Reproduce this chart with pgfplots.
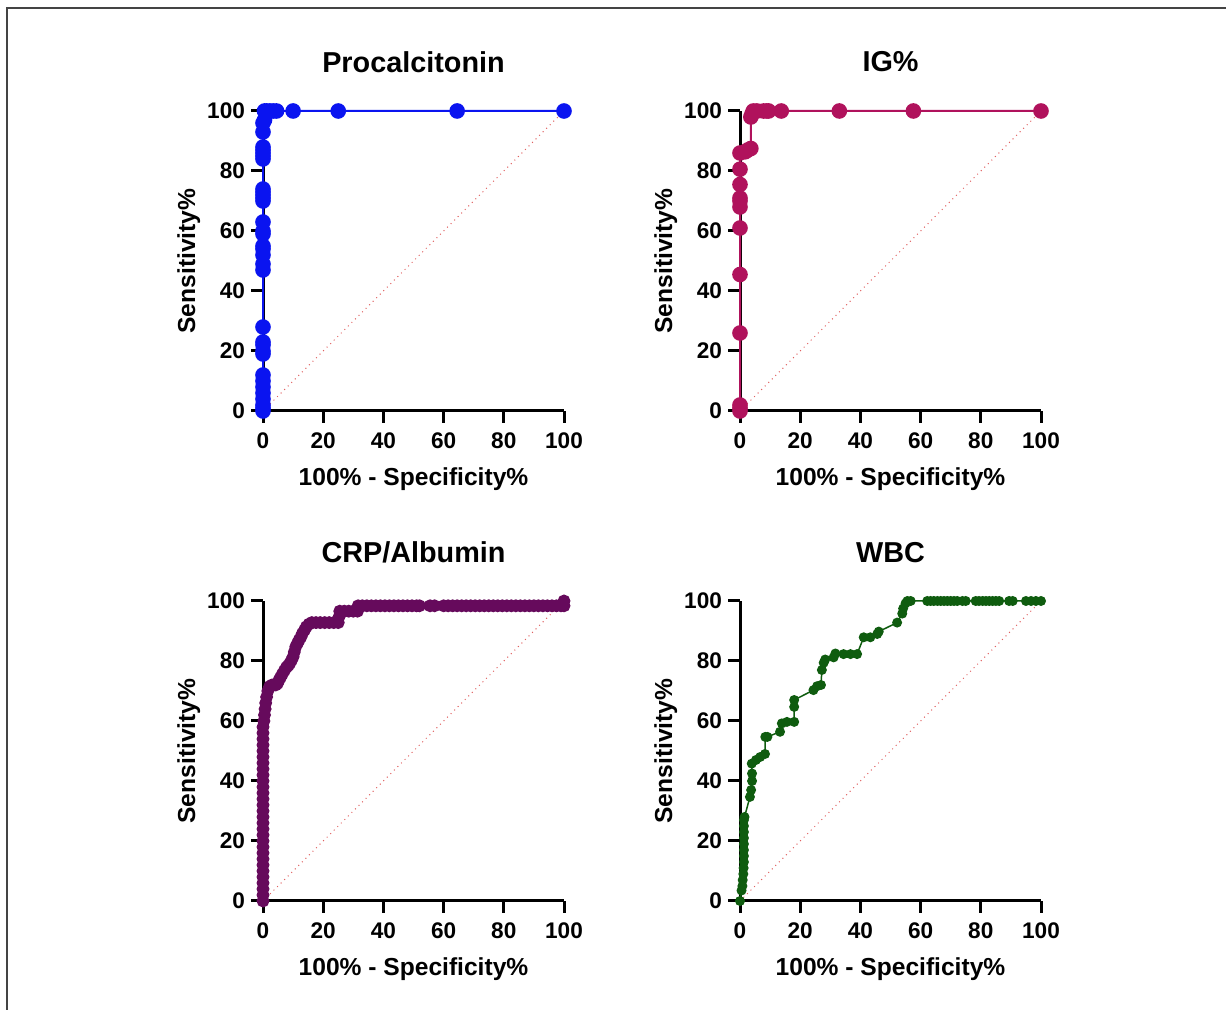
\documentclass[border=0pt]{standalone}
\usepackage{pgfplots}
\pgfplotsset{compat=1.18}
\usepackage{fontspec}
\setmainfont{Liberation Sans}

\definecolor{pctblue}{HTML}{0A14F0}
\definecolor{igred}{HTML}{B0125C}
\definecolor{crppurple}{HTML}{660A5C}
\definecolor{wbcgreen}{HTML}{0F5C0F}
\definecolor{diagred}{HTML}{E06060}
\definecolor{framegray}{HTML}{444444}

\pgfplotsset{
  roc/.style={
    scale only axis, width=150.5pt, height=150pt,
    anchor=south west,
    xmin=0, xmax=100, ymin=0, ymax=100,
    xtick={0,20,...,100}, ytick={0,20,...,100},
    axis x line=bottom, axis y line=left,
    axis line style={-, line width=1.5pt, black},
    tick style={line width=1.5pt, black},
    tick align=outside, major tick length=6pt,
    /pgf/number format/assume math mode=true,
    tick label style={font=\bfseries\fontsize{11.3}{11.3}\selectfont},
    xticklabel style={yshift=-1.5pt},
    yticklabel style={xshift=0.5pt},
    label style={font=\bfseries\fontsize{12.3}{12.3}\selectfont},
    xlabel={100\% - Specificity\%}, ylabel={Sensitivity\%},
    xlabel style={at={(axis description cs:0.5,-0.227)}, anchor=center},
    ylabel style={at={(axis description cs:-0.2465,0.5)}, anchor=center, rotate=0},
    title style={font=\bfseries\fontsize{14.4}{14.4}\selectfont,
      at={(axis description cs:0.5,1.123)}, anchor=center},
    clip=false,
  },
  diag/.style={diagred, line width=0.5pt, dotted},
}

\begin{document}
\begin{tikzpicture}
\path[use as bounding box] (0,0) rectangle (613pt,505pt);
\draw[framegray, line width=1pt] (3.5pt,0) -- (3.5pt,501pt) -- (613pt,501pt);

% Procalcitonin
\begin{axis}[roc, at={(131.5pt,299.5pt)}, title={Procalcitonin}]
\addplot[diag] coordinates {(0,0) (100,100)};
\addplot[pctblue, line width=1pt, mark=*, mark size=3.4pt] coordinates {
(0,0) (0,1) (0,2) (0,4) (0,6) (0,8) (0,10) (0,12) (0,19) (0,20) (0,22) (0,23)
(0,28) (0,47) (0,49) (0,52) (0,54) (0,55) (0,59) (0,60) (0,63) (0,70) (0,71)
(0,72) (0,73) (0,74) (0,84) (0,85) (0,86) (0,87) (0,88) (0,93) (0,96) (0.5,97)
(0.5,100) (1.2,100) (2.3,100) (3.4,100) (4.5,100) (10,100) (25,100) (64.5,100) (100,100)
};
\end{axis}

% IG%
\begin{axis}[roc, at={(370pt,299.5pt)}, title={IG\%}]
\addplot[diag] coordinates {(0,0) (100,100)};
\addplot[igred, line width=1pt, mark=*, mark size=3.4pt] coordinates {
(0,0) (0,1) (0,2) (0,26) (0,45.5) (0,61) (0,68) (0,70) (0,71) (0,75.5) (0,80.6)
(0,86) (1.7,86.4) (2.6,87) (3.6,87.5) (3.6,98) (4,99) (4.4,100) (5.6,100)
(7.8,100) (8.9,100) (9.5,100) (13.7,100) (33,100) (57.6,100) (100,100)
};
\end{axis}

% CRP/Albumin
\begin{axis}[roc, at={(131.5pt,54.5pt)}, title={CRP/Albumin}]
\addplot[diag] coordinates {(0,0) (100,100)};
\addplot[crppurple, line width=1.2pt, mark=*, mark size=2.6pt] coordinates {
(0,0) (0,2) (0,4) (0,6) (0,8) (0,10) (0,12) (0,14) (0,16) (0,18) (0,20) (0,22)
(0,24) (0,26) (0,28) (0,30) (0,32) (0,34) (0,36) (0,38) (0,40) (0,42) (0,44)
(0,46) (0,48) (0,50) (0,52) (0,54) (0,56) (0,58)
(0.3,60) (0.5,62) (0.7,64) (0.9,66) (1.2,68) (1.6,70) (2.2,71.5) (3,72) (4.2,72)
(4.8,72.5) (5.3,73.6) (5.8,74.5) (6.4,75.6) (7.1,76.8) (7.8,77.9) (8.4,78.5)
(8.9,79.2) (9.5,80.3) (10,81.4) (10.4,83) (10.9,84.8) (11.5,86) (12,87)
(12.6,88) (13.1,89.2) (13.8,90.3) (14.4,91.4) (15.3,92.3) (16.2,92.8)
(17.6,92.8) (19,92.8) (20.5,92.8) (22,92.8) (23.5,92.8) (25,92.8) (25.3,94.8)
(25.5,96.6) (27,96.6) (28.5,96.6) (30,96.6) (31.4,96.6) (31.6,98.4)
(33,98.4) (34.5,98.4) (36,98.4) (37.5,98.4) (39,98.4) (40.5,98.4) (42,98.4)
(43.5,98.4) (45,98.4) (46.5,98.4) (48,98.4) (49.5,98.4) (51,98.4) (52,98.4)
(55.5,98.4) (57,98.4) (60,98.4) (61.5,98.4) (63,98.4) (64.5,98.4) (66,98.4)
(67.5,98.4) (69,98.4) (70.5,98.4) (72,98.4) (73.5,98.4) (75,98.4) (76.5,98.4)
(78,98.4) (79.5,98.4) (81,98.4) (82.5,98.4) (84,98.4) (85.5,98.4) (87,98.4)
(88.5,98.4) (90,98.4) (91.5,98.4) (93,98.4) (94.5,98.4) (96,98.4) (97.5,98.4)
(99,98.4) (100,98.4) (100,100)
};
\end{axis}

% WBC
\begin{axis}[roc, at={(370pt,54.5pt)}, title={WBC}]
\addplot[diag] coordinates {(0,0) (100,100)};
\addplot[wbcgreen, line width=0.75pt, mark=*, mark size=2.1pt] coordinates {
(0,0) (0.5,3.5) (0.8,5) (0.9,7) (1.1,9) (1.2,11) (1.3,13) (1.3,15) (1.3,17)
(1.3,19) (1.3,21) (1.3,23) (1.3,25) (1.3,27) (1.5,28) (3.3,34.7) (3.7,37) (4,40)
(4,42.5) (3.9,45.8) (5.3,47) (6.7,48) (8.3,49) (8.4,54.7) (9.1,54.7) (13.3,56.4)
(13.9,59.2) (15.6,59.7) (18,59.7) (18,64.7) (18,67) (24.4,70.3) (25.6,71.6)
(26.9,72) (27.2,77) (27.8,79.4) (28.3,80.5) (31.1,81.2) (31.7,82.5) (34.4,82.3)
(36.7,82.3) (38.9,82.3) (41.1,87.9) (43.3,87.9) (45.6,89) (46.1,89.8) (52.2,92.8)
(53.9,95.8) (54.2,97.5) (55,99.2) (55.6,100) (56.7,100) (62.2,100) (63.3,100)
(64.4,100) (65.6,100) (66.7,100) (67.8,100) (68.9,100) (70,100) (71.1,100)
(72.2,100) (73.9,100) (75,100) (78.3,100) (79.4,100) (80.6,100) (81.7,100)
(82.8,100) (83.9,100) (85,100) (86.1,100) (89.4,100) (90.6,100) (95,100)
(96.7,100) (98.3,100) (100,100)
};
\end{axis}
\end{tikzpicture}
\end{document}
